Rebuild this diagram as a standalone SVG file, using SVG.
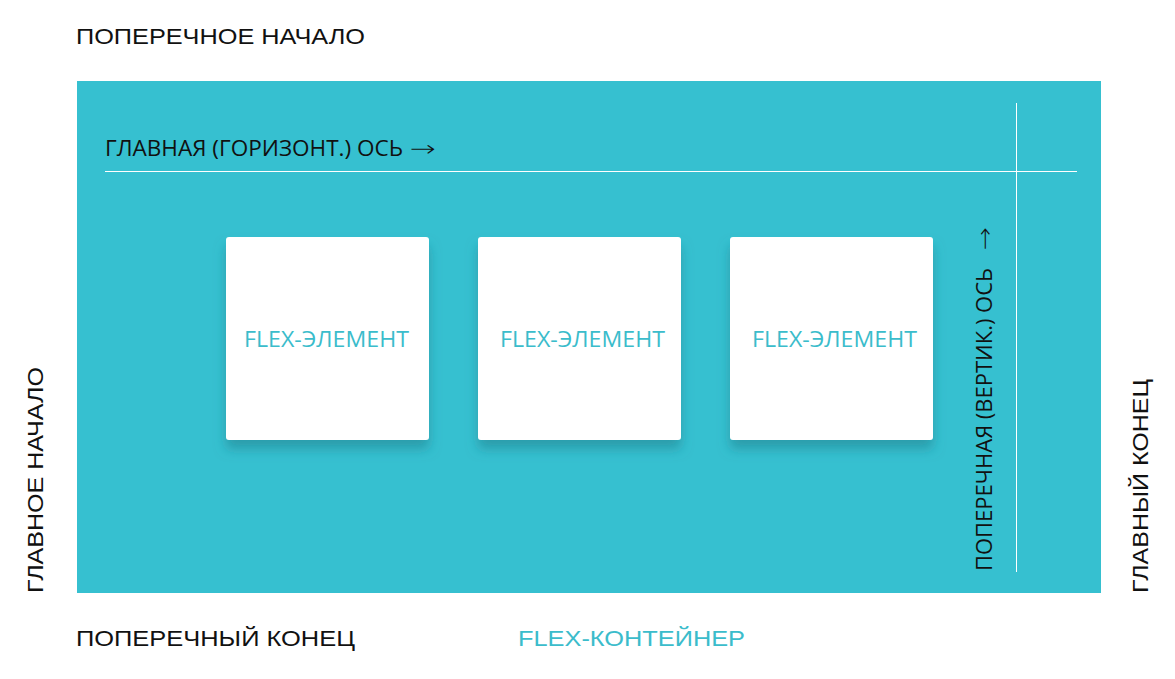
<svg xmlns="http://www.w3.org/2000/svg" width="1175" height="679" viewBox="0 0 1175 679">
<defs>
<filter id="sh" x="-20%" y="-20%" width="140%" height="150%">
<feDropShadow dx="0" dy="9" stdDeviation="6" flood-color="#1f7f8c" flood-opacity="0.55"/>
</filter>
</defs>
<style>
.lbl{font-family:"Open Sans","Liberation Sans",sans-serif;font-size:21px;fill:#111}
.arr{font-family:"DejaVu Sans",sans-serif;font-size:22px;font-weight:200;fill:#111}
.wide{font-family:"Liberation Sans","DejaVu Sans",sans-serif;font-size:22px;fill:#111}
.item{font-family:"Open Sans","Liberation Sans",sans-serif;font-size:21px;fill:#3bbccb;text-anchor:middle}
.box{fill:#fff}
.axis{stroke:#fff;stroke-width:1}
</style>
<rect width="1175" height="679" fill="#fff"/>
<g id="container">
<rect x="77" y="81" width="1024" height="512" fill="#36c0d0"/>
</g>
<g id="connectors">
<line class="axis" x1="105" y1="171.5" x2="1077" y2="171.5"/>
<line class="axis" x1="1016.5" y1="103" x2="1016.5" y2="572"/>
</g>
<g id="item1">
<rect class="box" x="226" y="237" width="203" height="203" rx="3" filter="url(#sh)"/>
<text class="item" x="326.5" y="347" textLength="165" lengthAdjust="spacingAndGlyphs">FLEX-ЭЛЕМЕНТ</text>
</g>
<g id="item2">
<rect class="box" x="478" y="237" width="203" height="203" rx="3" filter="url(#sh)"/>
<text class="item" x="582.5" y="347" textLength="165" lengthAdjust="spacingAndGlyphs">FLEX-ЭЛЕМЕНТ</text>
</g>
<g id="item3">
<rect class="box" x="730" y="237" width="203" height="203" rx="3" filter="url(#sh)"/>
<text class="item" x="834.5" y="347" textLength="165" lengthAdjust="spacingAndGlyphs">FLEX-ЭЛЕМЕНТ</text>
</g>
<g id="labels">
<text class="wide" x="76" y="44" textLength="289" lengthAdjust="spacingAndGlyphs">ПОПЕРЕЧНОЕ НАЧАЛО</text>
<text class="lbl" x="105" y="156" textLength="298" lengthAdjust="spacingAndGlyphs">ГЛАВНАЯ (ГОРИЗОНТ.) ОСЬ</text>
<text class="arr" x="410" y="156" textLength="26" lengthAdjust="spacingAndGlyphs">→</text>
<g transform="translate(992,571) rotate(-90)">
<text class="lbl" x="0" y="0" textLength="303" lengthAdjust="spacingAndGlyphs">ПОПЕРЕЧНАЯ (ВЕРТИК.) ОСЬ</text>
<text class="arr" x="321" y="0" textLength="23" lengthAdjust="spacingAndGlyphs">→</text>
</g>
<text class="wide" transform="translate(43,593) rotate(-90)" textLength="226" lengthAdjust="spacingAndGlyphs">ГЛАВНОЕ НАЧАЛО</text>
<text class="wide" transform="translate(1148,593) rotate(-90)" textLength="214" lengthAdjust="spacingAndGlyphs">ГЛАВНЫЙ КОНЕЦ</text>
<text class="wide" x="76" y="646" textLength="279" lengthAdjust="spacingAndGlyphs">ПОПЕРЕЧНЫЙ КОНЕЦ</text>
<text class="wide" x="518" y="646" textLength="227" lengthAdjust="spacingAndGlyphs" style="fill:#3bbccb">FLEX-КОНТЕЙНЕР</text>
</g>
</svg>
